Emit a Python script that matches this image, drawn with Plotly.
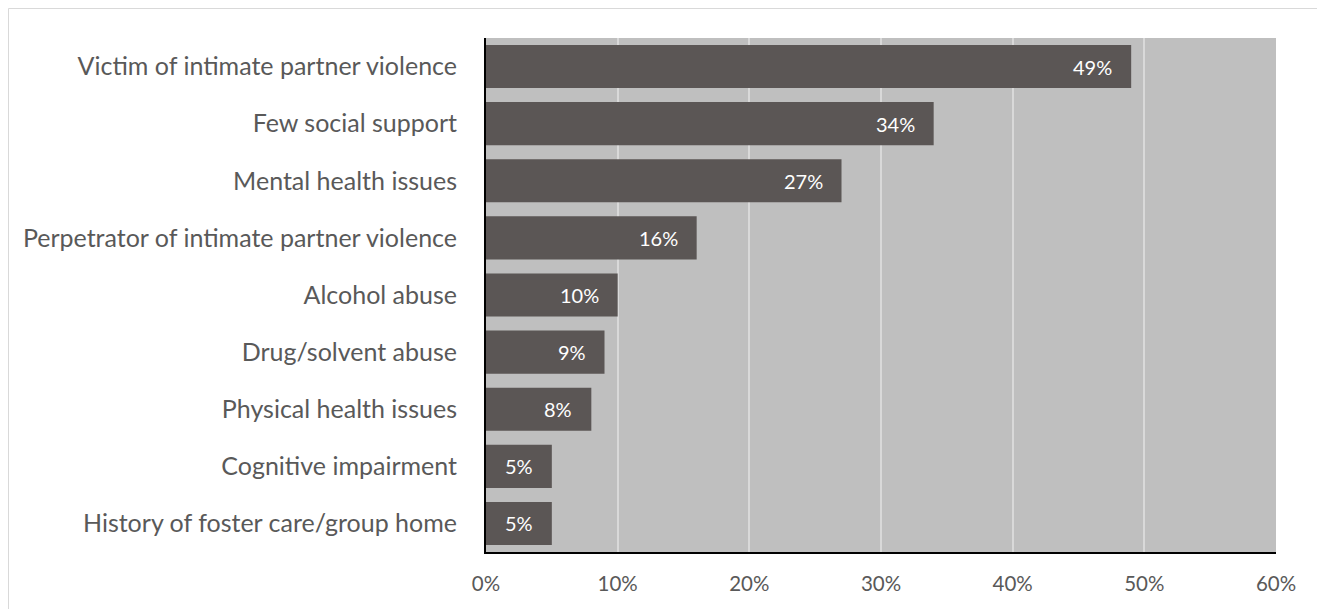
import plotly.graph_objects as go

categories = [
    "Victim of intimate partner violence",
    "Few social support",
    "Mental health issues",
    "Perpetrator of intimate partner violence",
    "Alcohol abuse",
    "Drug/solvent abuse",
    "Physical health issues",
    "Cognitive impairment",
    "History of foster care/group home",
]
values = [49, 34, 27, 16, 10, 9, 8, 5, 5]
tick_vals = [0, 10, 20, 30, 40, 50, 60]
tick_text = ["0%", "10%", "20%", "30%", "40%", "50%", "60%"]

FONT = "Lato"
TXT = "#595959"

L, R, T, B = 478, 57, 30, 65
PW, PH = 1325 - L - R, 609 - T - B

fig = go.Figure()
fig.add_trace(go.Bar(
    y=categories, x=values, orientation="h",
    marker=dict(color="#5B5655", line=dict(width=0)),
    hoverinfo="skip",
))
for c, v in zip(categories, values):
    fig.add_annotation(x=v, y=c, xref="x", yref="y", text=f"{v}%",
                       showarrow=False, xanchor="right", xshift=-17,
                       font=dict(family=FONT, size=20, color="white"))

fig.update_layout(
    width=1325, height=609,
    margin=dict(l=L, r=R, t=T, b=B),
    paper_bgcolor="white", plot_bgcolor="#BFBFBF",
    bargap=0.245, showlegend=False,
    font=dict(family=FONT, color=TXT),
    shapes=[dict(type="rect", xref="paper", yref="paper",
                 x0=-(L - 0.5) / PW, x1=(1315 - L) / PW,
                 y0=-(B + 20) / PH, y1=1 + (T - 0.5) / PH,
                 line=dict(color="#D9D9D9", width=1))],
)
fig.update_xaxes(range=[0, 60], tickvals=tick_vals, ticktext=tick_text,
                 showgrid=True, gridcolor="#D9D9D9", gridwidth=1.5,
                 zeroline=False, showline=True, linecolor="black", linewidth=2,
                 tickfont=dict(size=20.5, color=TXT), ticklabelstandoff=12,
                 fixedrange=True)
fig.update_yaxes(categoryorder="array", categoryarray=categories[::-1],
                 showgrid=False, zeroline=False, showline=True,
                 linecolor="black", linewidth=2,
                 tickfont=dict(size=25, color=TXT), ticklabelstandoff=22,
                 fixedrange=True)

fig.write_html("out.html")
